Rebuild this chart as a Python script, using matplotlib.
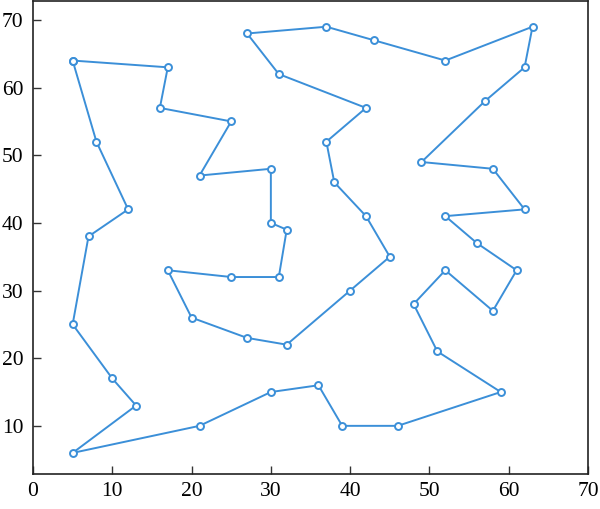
import matplotlib.pyplot as plt

# tour order, closed back to the start
tour_x = [5, 17, 16, 25, 21, 30, 30, 32, 31, 25, 17, 20, 27, 32, 40, 45, 42, 38, 37, 42,
          31, 27, 37, 43, 52, 63, 62, 57, 49, 58, 62, 52, 56, 61, 58, 52, 48, 51, 59, 46,
          39, 36, 30, 21, 5, 13, 10, 5, 7, 12, 8, 5]
tour_y = [64, 63, 57, 55, 47, 48, 40, 39, 32, 32, 33, 26, 23, 22, 30, 35, 41, 46, 52, 57,
          62, 68, 69, 67, 64, 69, 63, 58, 49, 48, 42, 41, 37, 33, 27, 33, 28, 21, 15, 10,
          10, 16, 15, 10, 6, 13, 17, 25, 38, 42, 52, 64]
x_ticks = [0, 10, 20, 30, 40, 50, 60, 70]
y_ticks = [10, 20, 30, 40, 50, 60, 70]

plt.rcParams["font.family"] = ["Liberation Serif", "DejaVu Serif"]

fig = plt.figure(figsize=(6.0, 5.09), dpi=100)
ax = fig.add_axes([0.055, 0.069, 0.925, 0.929])

ax.plot(tour_x, tour_y, color="#3b8fd8", linewidth=1.4, marker="o", markersize=5,
        markerfacecolor="white", markeredgecolor="#3b8fd8", markeredgewidth=1.4)

ax.set_xlim(0, 70)
ax.set_ylim(2.9, 72.8)
ax.set_xticks(x_ticks)
ax.set_yticks(y_ticks)
ax.tick_params(direction="in", length=5.5, width=1, labelsize=15.5, color="#333333")
ax.tick_params(axis="x", pad=6)
ax.tick_params(axis="y", pad=7)
for spine in ax.spines.values():
    spine.set_linewidth(1.2)
    spine.set_color("#222222")

fig.savefig("out.png", dpi=100)
